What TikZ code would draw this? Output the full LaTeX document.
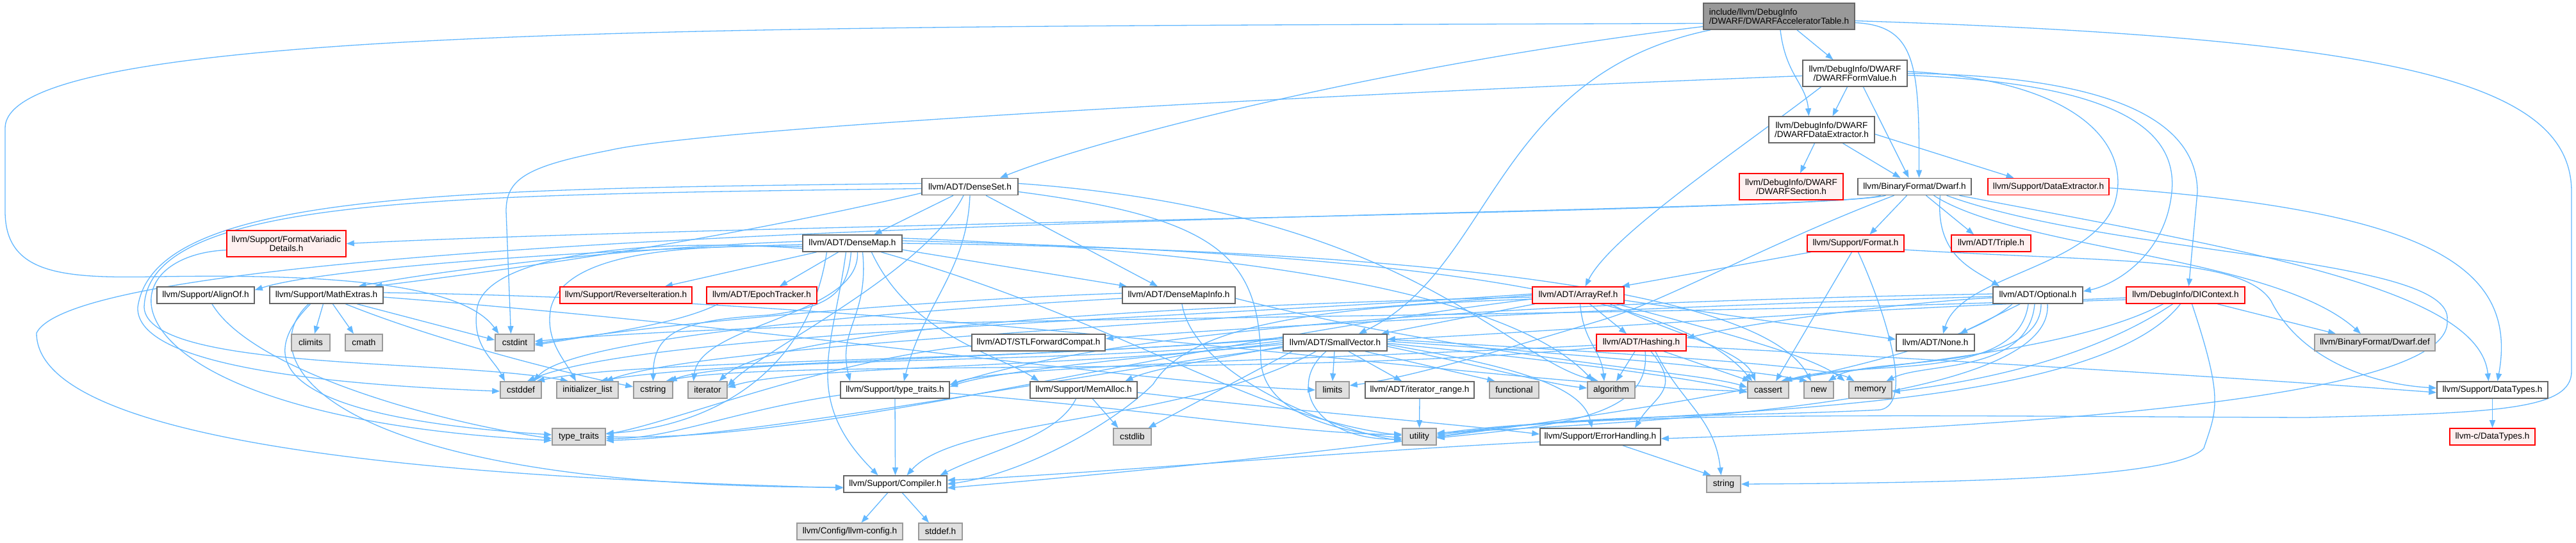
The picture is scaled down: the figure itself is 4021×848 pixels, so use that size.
\documentclass[tikz,border=0pt]{standalone}
\usepackage{fontspec}
\setmainfont{Liberation Sans}
\usetikzlibrary{arrows.meta}
\pgfdeclarelayer{edges}
\pgfsetlayers{edges,main}
\definecolor{edgec}{HTML}{63B8FF}
\definecolor{nborder}{HTML}{666666}
\definecolor{rfill}{HTML}{FFF0F0}
\definecolor{gfill}{HTML}{E0E0E0}
\definecolor{gborder}{HTML}{999999}
\definecolor{mfill}{HTML}{999999}
\tikzset{
  nb/.style={draw=nborder, fill=white, line width=1.6pt, inner sep=0pt, minimum height=26pt,
             font=\fontsize{13.6pt}{14.5pt}\selectfont, align=center, text=black},
  rb/.style={nb, draw=red, fill=rfill},
  gb/.style={nb, draw=gborder, fill=gfill},
  mb/.style={nb, draw=nborder, fill=mfill},
  wd/.style={minimum width=#1pt},
  tall/.style={minimum height=41pt},
  e/.style={draw=edgec, line width=1.3pt, -{Triangle[length=12pt,width=9pt]}}
}
\begin{document}
\begin{tikzpicture}[x=1pt,y=-1pt]
\useasboundingbox (0,0) rectangle (4021,848);
% ---------- nodes ----------
\node[mb,wd=236,tall,align=left] (main) at (2777,25.5) {include/llvm/DebugInfo\\/DWARF/DWARFAcceleratorTable.h};
\node[nb,wd=163,tall] (FV) at (2895.5,114.5) {llvm/DebugInfo/DWARF\\/DWARFFormValue.h};
\node[nb,wd=165,tall] (DDE) at (2843.5,202.5) {llvm/DebugInfo/DWARF\\/DWARFDataExtractor.h};
\node[rb,wd=162,tall] (DSec) at (2796,291.5) {llvm/DebugInfo/DWARF\\/DWARFSection.h};
\node[nb,wd=177] (DwarfH) at (2988.5,291.5) {llvm/BinaryFormat/Dwarf.h};
\node[rb,wd=189] (DataExt) at (3197.5,291.5) {llvm/Support/DataExtractor.h};
\node[nb,wd=150] (DenseSet) at (1514,291.5) {llvm/ADT/DenseSet.h};
\node[rb,wd=151] (Format) at (2896.5,380) {llvm/Support/Format.h};
\node[rb,wd=124] (Triple) at (3108,380) {llvm/ADT/Triple.h};
\node[nb,wd=155] (DenseMap) at (1330.5,380) {llvm/ADT/DenseMap.h};
\node[rb,wd=186,tall] (FVD) at (447,380.5) {llvm/Support/FormatVariadic\\Details.h};
\node[nb,wd=152] (AlignOf) at (321,461) {llvm/Support/AlignOf.h};
\node[nb,wd=177] (MathExtras) at (509.5,461) {llvm/Support/MathExtras.h};
\node[rb,wd=206] (RevIter) at (977,461) {llvm/Support/ReverseIteration.h};
\node[rb,wd=172] (Epoch) at (1189,461) {llvm/ADT/EpochTracker.h};
\node[nb,wd=176] (DMI) at (1840,461) {llvm/ADT/DenseMapInfo.h};
\node[rb,wd=143] (ArrayRef) at (2463.5,461) {llvm/ADT/ArrayRef.h};
\node[nb,wd=140] (Optional) at (3181,461) {llvm/ADT/Optional.h};
\node[rb,wd=185] (DIContext) at (3411.5,461) {llvm/DebugInfo/DIContext.h};
\node[gb,wd=60] (climits) at (485,535) {climits};
\node[gb,wd=58] (cmath) at (568,535) {cmath};
\node[gb,wd=61] (cstdint) at (803.5,535) {cstdint};
\node[nb,wd=208] (STLFC) at (1621,535) {llvm/ADT/STLForwardCompat.h};
\node[nb,wd=162] (SmallVector) at (2084,535) {llvm/ADT/SmallVector.h};
\node[rb,wd=140] (Hashing) at (2562,535) {llvm/ADT/Hashing.h};
\node[nb,wd=122] (None) at (3021,535) {llvm/ADT/None.h};
\node[gb,wd=188] (DwarfDef) at (3707,535) {llvm/BinaryFormat/Dwarf.def};
\node[gb,wd=64] (cstddef) at (813,609) {cstddef};
\node[gb,wd=96] (initlist) at (917,609) {initializer\_list};
\node[gb,wd=61] (cstring) at (1019.5,609) {cstring};
\node[gb,wd=61] (iterator) at (1104.5,609) {iterator};
\node[nb,wd=170] (ttH) at (1397,609) {llvm/Support/type\_traits.h};
\node[nb,wd=167] (MemAlloc) at (1691.5,609) {llvm/Support/MemAlloc.h};
\node[gb,wd=52] (limits) at (2080,609) {limits};
\node[nb,wd=170] (itrange) at (2216,609) {llvm/ADT/iterator\_range.h};
\node[gb,wd=77] (functional) at (2363.5,609) {functional};
\node[gb,wd=74] (algorithm) at (2515,609) {algorithm};
\node[gb,wd=64] (cassert) at (2760,609) {cassert};
\node[gb,wd=46] (new) at (2839,609) {new};
\node[gb,wd=67] (memory) at (2919.5,609) {memory};
\node[nb,wd=173] (DataTypes) at (3890.5,609) {llvm/Support/DataTypes.h};
\node[gb,wd=83] (type_traits) at (903.5,682) {type\_traits};
\node[gb,wd=59] (cstdlib) at (1767.5,682) {cstdlib};
\node[gb,wd=53] (utility) at (2215.5,682) {utility};
\node[nb,wd=188] (ErrH) at (2498,682) {llvm/Support/ErrorHandling.h};
\node[rb,wd=133] (cDT) at (3890.5,682) {llvm-c/DataTypes.h};
\node[nb,wd=161] (Compiler) at (1397.5,756) {llvm/Support/Compiler.h};
\node[gb,wd=53] (string) at (2690.5,756) {string};
\node[gb,wd=165] (llvmconfig) at (1326.5,830) {llvm/Config/llvm-config.h};
\node[gb,wd=68] (stddefh) at (1468,830) {stddef.h};
% ---------- edges ----------
\begin{pgfonlayer}{edges}
\fill[white] (0,0) rectangle (4021,848);
% main
\draw[e] ([xshift=28pt]main.south) -- ([xshift=-34pt]FV.north);
\draw[e] ([xshift=2pt]main.south) .. controls +(8,70) and +(-4,-50) .. ([xshift=-20pt]DDE.north);
\draw[e] ([yshift=-10pt]main.east) .. controls (2990,40) and (2996,100) .. ([xshift=7pt]DwarfH.north);
\draw[e] ([yshift=-16pt]main.west) .. controls +(-500,60) and +(150,-60) .. ([xshift=47pt]DenseSet.north);
\draw[e] ([xshift=-107pt]main.south) .. controls +(-340,70) and +(210,-100) .. ([xshift=37pt]SmallVector.north);
\draw[e] ([yshift=-11pt]main.west) .. controls (1200,42) and (8,35) .. (8,200) -- (8,330) .. controls (8,430) and (100,435) .. (250,432) .. controls (500,428) and (720,440) .. ([xshift=-25pt]cstdint.north);
\draw[e] ([yshift=-7pt]main.east) .. controls (3750,60) and (4014,130) .. (4014,300) -- (4014,580) .. controls (4014,640) and (3900,645) .. (3600,652) .. controls (3000,650) and (2500,640) .. ([yshift=2pt]utility.east);
% DWARFFormValue
\draw[e] ([xshift=-12pt]FV.south) -- ([xshift=17pt]DDE.north);
\draw[e] ([xshift=13pt]FV.south) -- ([xshift=-9pt]DwarfH.north);
\draw[e] ([xshift=-53pt]FV.south) .. controls +(-130,100) and +(40,-80) .. ([xshift=11pt]ArrayRef.north);
\draw[e] ([yshift=-4pt]FV.west) .. controls (2000,150) and (1100,200) .. (950,235) .. controls (820,260) and (790,280) .. (790,330) -- ([xshift=-6pt]cstdint.north);
\draw[e] ([yshift=3pt]FV.east) .. controls (3250,125) and (3330,230) .. (3300,320) .. controls (3260,420) and (3060,430) .. ([xshift=12pt]None.north);
\draw[e] ([yshift=-3pt]FV.east) .. controls (3300,130) and (3400,200) .. (3390,300) .. controls (3380,400) and (3300,445) .. ([yshift=6pt]Optional.east);
\draw[e] (FV.east) .. controls (3250,118) and (3430,170) .. (3430,300) -- ([xshift=5pt]DIContext.north);
% DWARFDataExtractor
\draw[e] ([xshift=-11pt]DDE.south) -- ([xshift=14pt]DSec.north);
\draw[e] ([xshift=33pt]DDE.south) -- ([xshift=-22pt]DwarfH.north);
\draw[e] ([yshift=-7pt]DDE.east) -- ([xshift=-54pt]DataExt.north);
% BinaryFormat/Dwarf.h
\draw[e] ([xshift=-12pt]DwarfH.south) -- ([xshift=22pt]Format.north);
\draw[e] ([xshift=18pt]DwarfH.south) -- ([xshift=-27pt]Triple.north);
\draw[e] ([xshift=-53pt]DwarfH.south) .. controls (2870,330) and (1140,350) .. (FVD.east);
\draw[e] ([xshift=-45pt]DwarfH.south) .. controls (2800,340) and (150,335) .. (57,520) .. controls (57,720) and (900,750) .. ([yshift=-6pt]Compiler.west);
\draw[e] ([xshift=40pt]DwarfH.south) .. controls (3020,400) and (3080,420) .. ([xshift=-60pt]Optional.north);
\draw[e] ([xshift=70pt]DwarfH.south) .. controls (3500,390) and (3870,450) .. ([xshift=-6pt]DataTypes.north);
\draw[e] ([xshift=30pt]DwarfH.south) .. controls (3150,390) and (3550,400) .. ([xshift=-22pt]DwarfDef.north);
\draw[e] ([xshift=50pt]DwarfH.south) .. controls (3300,400) and (3830,400) .. (3820,500) .. controls (3830,620) and (3200,665) .. ([yshift=-3pt]ErrH.east);
\draw[e] ([xshift=-32pt]DwarfH.south) .. controls (2760,380) and (2600,470) .. (2500,500) .. controls (2350,545) and (2200,590) .. ([yshift=7pt]limits.east);
% DenseSet
\draw[e] ([xshift=-26pt]DenseSet.south) -- ([xshift=34pt]DenseMap.north);
\draw[e] ([xshift=25pt]DenseSet.south) -- ([xshift=-33pt]DMI.north);
\draw[e] ([yshift=-10pt]DenseSet.west) .. controls (1100,380) and (800,420) .. ([xshift=75pt]MathExtras.north);
\draw[e] (DenseSet.south) .. controls +(-5,120) and +(30,-120) .. ([xshift=14pt]ttH.north);
\draw[e] ([xshift=-10pt]DenseSet.south) .. controls +(-60,120) and +(60,-60) .. ([yshift=6pt]iterator.east);
\draw[e] ([yshift=5pt]DenseSet.west) .. controls (700,295) and (240,300) .. (215,480) .. controls (212,570) and (500,600) .. ([yshift=-2pt]cstddef.west);
\draw[e] ([yshift=-3pt]DenseSet.west) .. controls (700,305) and (230,305) .. (225,480) .. controls (230,580) and (700,560) .. ([xshift=-30pt]initlist.north);
\draw[e] ([yshift=-8pt]DenseSet.east) .. controls (1900,340) and (1965,400) .. (1968,560) .. controls (1970,650) and (2100,675) .. ([yshift=-2pt]utility.west);
\draw[e] ([yshift=5pt]DenseSet.east) .. controls (2200,330) and (2350,560) .. ([xshift=-20pt]algorithm.north);
% DenseMap
\draw[e] ([yshift=-10pt]DenseMap.east) -- ([xshift=-81pt]DMI.north);
\draw[e] ([xshift=-22pt]DenseMap.south) -- ([xshift=28pt]Epoch.north);
\draw[e] ([xshift=-56pt]DenseMap.south) -- ([xshift=61pt]RevIter.north);
\draw[e] ([yshift=-2pt]DenseMap.west) .. controls (900,390) and (500,420) .. ([yshift=8pt]AlignOf.east);
\draw[e] ([yshift=3pt]DenseMap.west) .. controls (1000,385) and (700,420) .. ([xshift=50pt]MathExtras.north);
\draw[e] ([xshift=-2pt]DenseMap.south) .. controls +(-5,60) and (1300,480) .. (1200,492) .. controls (1060,500) and (1020,520) .. (cstring.north);
\draw[e] ([xshift=8pt]DenseMap.south) .. controls +(5,100) and +(10,-90) .. ([xshift=-22pt]iterator.north);
\draw[e] ([yshift=-5pt]DenseMap.west) .. controls (1000,380) and (880,410) .. (860,480) .. controls (850,530) and (880,560) .. ([xshift=-18pt]initlist.north);
\draw[e] ([yshift=-8pt]DenseMap.west) .. controls (1000,370) and (760,400) .. (745,480) .. controls (735,540) and (770,560) .. ([xshift=-25pt]cstddef.north);
\draw[e] ([xshift=-40pt]DenseMap.south) .. controls +(-30,200) and +(150,-10) .. ([yshift=5pt]type_traits.east);
\draw[e] ([xshift=16pt]DenseMap.south) .. controls +(10,100) and +(-20,-80) .. ([xshift=-70pt]ttH.north);
\draw[e] ([xshift=-10pt]DenseMap.south) .. controls +(-20,150) and +(-120,-120) .. ([xshift=-27pt]Compiler.north);
\draw[e] ([xshift=30pt]DenseMap.south) .. controls +(60,130) and +(-60,-40) .. ([xshift=-70pt]MemAlloc.north);
\draw[e] ([yshift=8pt]DenseMap.east) .. controls (1900,390) and (2350,450) .. ([xshift=-28pt]algorithm.north);
\draw[e] ([yshift=4pt]DenseMap.east) .. controls (2000,390) and (2600,430) .. ([xshift=-25pt]cassert.north);
\draw[e] (DenseMap.east) .. controls (2200,390) and (2750,450) .. ([xshift=-12pt]new.north);
\draw[e] ([xshift=45pt]DenseMap.south) .. controls (1750,500) and (1950,650) .. ([yshift=2pt]utility.west);
% DenseMapInfo
\draw[e] ([yshift=-5pt]DMI.east) .. controls (2300,560) and (2650,580) .. ([yshift=4pt]cassert.west);
\draw[e] ([yshift=-5pt]DMI.west) .. controls (1500,480) and (900,520) .. ([xshift=20pt]cstddef.north);
\draw[e] ([yshift=3pt]DMI.west) .. controls (1400,470) and (1000,510) .. ([yshift=-2pt]cstdint.east);
\draw[e] ([xshift=5pt]DMI.south) .. controls +(20,120) and +(-80,-10) .. ([yshift=-6pt]utility.west);
% EpochTracker
\draw[e] ([xshift=-68pt]Epoch.south) .. controls +(-60,30) and +(120,-20) .. ([yshift=-4pt]cstdint.east);
% MathExtras
\draw[e] ([xshift=-5pt]MathExtras.south) -- ([xshift=6pt]climits.north);
\draw[e] ([xshift=10pt]MathExtras.south) -- ([xshift=-16pt]cmath.north);
\draw[e] ([xshift=48pt]MathExtras.south) -- ([yshift=4pt]cstdint.west);
\draw[e] ([xshift=30pt]MathExtras.south) .. controls +(150,60) and +(-100,-20) .. ([yshift=5pt]cstring.west);
\draw[e] ([yshift=-3pt]MathExtras.east) .. controls (1200,510) and (1800,600) .. (limits.west);
\draw[e] ([yshift=4pt]MathExtras.east) .. controls (1500,470) and (2300,600) .. ([yshift=-2pt]cassert.west);
\draw[e] ([xshift=-28pt]MathExtras.south) .. controls (390,560) and (500,760) .. ([yshift=-5pt]Compiler.west);
\draw[e] ([xshift=-25pt]MathExtras.south) .. controls (400,560) and (420,650) .. ([yshift=3pt]type_traits.west);
% AlignOf, FormatVariadicDetails
\draw[e] ([xshift=10pt]AlignOf.south) .. controls +(60,100) and +(-200,-30) .. ([yshift=-3pt]type_traits.west);
\draw[e] ([yshift=-10pt]FVD.west) .. controls (150,400) and (150,650) .. ([yshift=-6pt]type_traits.west);
% Support/type_traits.h
\draw[e] (ttH.south) -- (Compiler.north);
\draw[e] ([yshift=-8pt]ttH.west) .. controls (1150,640) and (1050,685) .. ([yshift=-3pt]type_traits.east);
\draw[e] ([yshift=-5pt]ttH.east) .. controls (1800,640) and (2050,680) .. ([yshift=4pt]utility.west);
% MemAlloc
\draw[e] ([xshift=-12pt]MemAlloc.south) .. controls +(-30,60) and +(80,-40) .. ([xshift=70pt]Compiler.north);
\draw[e] ([xshift=14pt]MemAlloc.south) -- ([xshift=-22pt]cstdlib.north);
\draw[e] ([yshift=-4pt]MemAlloc.east) .. controls (2000,640) and (2250,660) .. ([yshift=4pt]ErrH.west);
% Compiler
\draw[e] ([xshift=-12pt]Compiler.south) -- ([xshift=18pt]llvmconfig.north);
\draw[e] ([xshift=11pt]Compiler.south) -- ([xshift=-18pt]stddefh.north);
% ErrorHandling
\draw[e] ([yshift=-8pt]ErrH.west) .. controls (2100,705) and (1700,740) .. ([yshift=6pt]Compiler.east);
\draw[e] ([xshift=35pt]ErrH.south) -- ([xshift=-20pt]string.north);
% SmallVector
\draw[e] ([xshift=-1pt]SmallVector.south) -- (limits.north);
\draw[e] ([xshift=21pt]SmallVector.south) -- ([xshift=-28pt]itrange.north);
\draw[e] ([xshift=47pt]SmallVector.south) -- ([xshift=-30pt]functional.north);
\draw[e] ([xshift=-67pt]SmallVector.south) -- ([xshift=25pt]cstdlib.north);
\draw[e] ([xshift=-14pt]SmallVector.south) .. controls +(-60,50) and +(-140,0) .. ([yshift=-4pt]utility.west);
\draw[e] ([yshift=-3pt]SmallVector.east) .. controls (2350,570) and (2470,600) .. ([xshift=-13pt]ErrH.north);
\draw[e] ([yshift=-6pt]SmallVector.east) .. controls (2350,580) and (2420,600) .. ([yshift=3pt]algorithm.west);
\draw[e] ([yshift=-1pt]SmallVector.east) .. controls (2400,560) and (2650,590) .. ([yshift=-4pt]cassert.west);
\draw[e] ([yshift=2pt]SmallVector.east) .. controls (2500,555) and (2750,580) .. ([xshift=-18pt]new.north);
\draw[e] ([yshift=5pt]SmallVector.east) .. controls (2500,550) and (2850,570) .. ([xshift=-25pt]memory.north);
\draw[e] ([yshift=-6pt]SmallVector.west) .. controls (1900,560) and (1800,575) .. ([xshift=65pt]MemAlloc.north);
\draw[e] ([yshift=-3pt]SmallVector.west) .. controls (1800,555) and (1550,580) .. ([yshift=5pt]ttH.east);
\draw[e] ([xshift=-30pt]SmallVector.south) .. controls +(-204,112) and +(80,-90) .. ([xshift=18pt]Compiler.north);
\draw[e] ([yshift=3pt]SmallVector.west) .. controls (1700,570) and (1150,555) .. ([xshift=25pt]cstring.north);
\draw[e] (SmallVector.west) .. controls (1700,575) and (1250,570) .. ([yshift=4pt]iterator.east);
\draw[e] ([yshift=6pt]SmallVector.west) .. controls (1600,560) and (1100,565) .. ([xshift=20pt]initlist.north);
\draw[e] ([yshift=8pt]SmallVector.west) .. controls (1600,565) and (1000,560) .. ([xshift=25pt]cstddef.north);
\draw[e] ([yshift=-8pt]SmallVector.west) .. controls (1700,580) and (1200,680) .. ([yshift=-6pt]type_traits.east);
% iterator_range
\draw[e] (itrange.south) -- (utility.north);
% ArrayRef
\draw[e] ([xshift=18pt]ArrayRef.south) -- ([xshift=-23pt]Hashing.north);
\draw[e] ([xshift=3pt]ArrayRef.south) .. controls +(5,60) and +(-5,-50) .. ([xshift=-11pt]algorithm.north);
\draw[e] ([xshift=-68pt]ArrayRef.south) -- ([xshift=72pt]SmallVector.north);
\draw[e] ([yshift=-8pt]ArrayRef.east) -- ([yshift=5pt]None.west);
\draw[e] ([xshift=50pt]ArrayRef.south) .. controls +(80,40) and +(-20,-50) .. ([xshift=-20pt]cassert.north);
\draw[e] ([xshift=60pt]ArrayRef.south) .. controls +(150,40) and +(-50,-40) .. ([xshift=-40pt]memory.north);
\draw[e] ([yshift=-6pt]ArrayRef.west) .. controls (2000,480) and (1850,520) .. (1800,600) .. controls (1740,660) and (1600,740) .. (Compiler.east);
\draw[e] ([yshift=2pt]ArrayRef.west) .. controls (1800,500) and (1000,520) .. ([xshift=10pt]cstddef.north);
\draw[e] (ArrayRef.west) .. controls (1800,510) and (1100,540) .. ([xshift=28pt]initlist.north);
\draw[e] ([yshift=-3pt]ArrayRef.west) .. controls (1700,480) and (1200,520) .. ([xshift=18pt]iterator.north);
\draw[e] ([yshift=-6pt]ArrayRef.west) .. controls (1800,540) and (1300,690) .. (type_traits.east);
% Hashing
\draw[e] ([xshift=-10pt]Hashing.south) -- ([xshift=8pt]algorithm.north);
\draw[e] ([xshift=35pt]Hashing.south) -- ([xshift=-28pt]cassert.north);
\draw[e] ([xshift=22pt]Hashing.south) .. controls +(40,80) and +(-10,-90) .. ([xshift=-4pt]string.north);
\draw[e] ([xshift=15pt]Hashing.south) .. controls +(50,60) and +(30,-50) .. ([xshift=54pt]ErrH.north);
\draw[e] ([xshift=6pt]Hashing.south) .. controls +(10,100) and +(200,-20) .. ([yshift=-2pt]utility.east);
\draw[e] ([yshift=-6pt]Hashing.east) .. controls (3000,560) and (3500,590) .. ([yshift=-4pt]DataTypes.west);
\draw[e] ([yshift=-4pt]Hashing.west) .. controls (2100,560) and (1560,570) .. ([yshift=8pt]ttH.east);
\draw[e] ([yshift=-8pt]Hashing.west) .. controls (2000,590) and (1200,560) .. ([xshift=20pt]cstring.north);
% Optional
\draw[e] ([xshift=-28pt]Optional.south) -- ([xshift=38pt]None.north);
\draw[e] ([yshift=-4pt]Optional.west) .. controls (3000,470) and (2750,500) .. ([yshift=7pt]Hashing.east);
\draw[e] ([yshift=-2pt]Optional.west) .. controls (2700,475) and (2000,505) .. ([yshift=6pt]STLFC.east);
\draw[e] ([xshift=-40pt]Optional.south) .. controls (3000,600) and (2200,700) .. ([yshift=-6pt]Compiler.east);
\draw[e] ([yshift=2pt]Optional.west) .. controls (2500,470) and (1800,500) .. ([yshift=8pt]ttH.east);
\draw[e] ([xshift=-15pt]Optional.south) .. controls (3150,600) and (2900,560) .. ([xshift=25pt]cassert.north);
\draw[e] ([xshift=-5pt]Optional.south) .. controls +(-10,110) and +(60,-30) .. ([xshift=25pt]memory.north);
\draw[e] ([xshift=5pt]Optional.south) .. controls +(0,110) and +(60,-40) .. ([xshift=15pt]new.north);
\draw[e] ([xshift=15pt]Optional.south) .. controls +(10,150) and +(400,-20) .. ([yshift=6pt]utility.east);
% STLForwardCompat
\draw[e] ([yshift=-5pt]STLFC.west) .. controls (1300,560) and (1050,660) .. ([yshift=4pt]type_traits.east);
% DIContext
\draw[e] ([xshift=50pt]DIContext.south) -- ([xshift=-61pt]DwarfDef.north);
\draw[e] ([xshift=10pt]DIContext.south) .. controls +(50,150) and +(20,-60) .. (3440,700) .. controls (3400,745) and (3100,754) .. (string.east);
\draw[e] ([yshift=-7pt]DIContext.west) .. controls (2900,480) and (2400,520) .. ([yshift=5pt]SmallVector.east);
\draw[e] ([xshift=-35pt]DIContext.south) .. controls +(-150,80) and +(100,-21) .. ([xshift=20pt]cassert.north);
\draw[e] ([xshift=-20pt]DIContext.south) .. controls +(-150,100) and +(80,-10) .. ([yshift=-3pt]memory.east);
\draw[e] ([xshift=-8pt]DIContext.south) .. controls +(-150,190) and +(250,-40) .. ([yshift=4pt]utility.east);
\draw[e] ([yshift=-4pt]DIContext.west) .. controls (2500,500) and (1300,490) .. ([yshift=2pt]cstdint.east);
% Format
\draw[e] ([xshift=-70pt]Format.south) -- ([xshift=68pt]ArrayRef.north);
\draw[e] ([xshift=-6pt]Format.south) -- ([xshift=12pt]cassert.north);
\draw[e] ([xshift=4pt]Format.south) .. controls (2940,480) and (2990,630) .. (2935,640) .. controls (2700,652) and (2450,645) .. ([yshift=-1pt]utility.east);
\draw[e] ([yshift=-10pt]Format.east) .. controls (3300,410) and (3500,400) .. (3545,470) .. controls (3590,560) and (3700,600) .. ([yshift=3pt]DataTypes.west);
% DataExtractor, DataTypes
\draw[e] ([yshift=-2pt]DataExt.east) .. controls (3800,330) and (3930,420) .. ([xshift=8pt]DataTypes.north);
\draw[e] (DataTypes.south) -- (cDT.north);
\end{pgfonlayer}
\end{tikzpicture}
\end{document}
